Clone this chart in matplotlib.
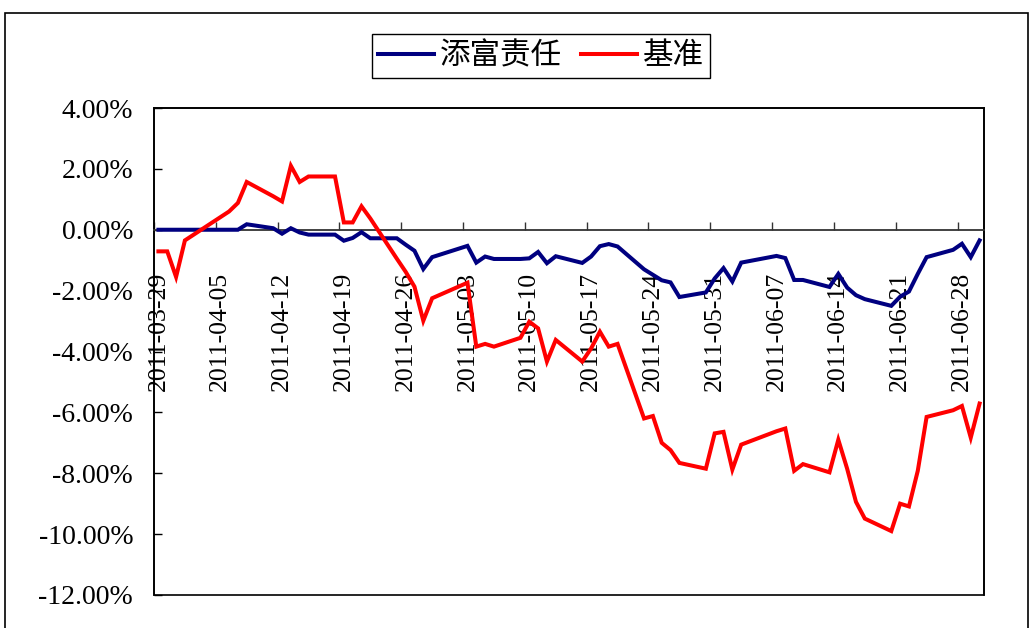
import matplotlib
matplotlib.use("Agg")
import matplotlib.pyplot as plt
import matplotlib.dates as mdates
from matplotlib.patches import Rectangle
from matplotlib.ticker import FixedLocator, FuncFormatter, NullFormatter
import pandas as pd

# ---------------- data ----------------
dates = ["2011-03-29", "2011-03-30", "2011-03-31", "2011-04-01", "2011-04-06", "2011-04-07",
         "2011-04-08", "2011-04-11", "2011-04-12", "2011-04-13", "2011-04-14", "2011-04-15",
         "2011-04-18", "2011-04-19", "2011-04-20", "2011-04-21", "2011-04-22", "2011-04-25",
         "2011-04-26", "2011-04-27", "2011-04-28", "2011-04-29", "2011-05-03", "2011-05-04",
         "2011-05-05", "2011-05-06", "2011-05-09", "2011-05-10", "2011-05-11", "2011-05-12",
         "2011-05-13", "2011-05-16", "2011-05-17", "2011-05-18", "2011-05-19", "2011-05-20",
         "2011-05-23", "2011-05-24", "2011-05-25", "2011-05-26", "2011-05-27", "2011-05-30",
         "2011-05-31", "2011-06-01", "2011-06-02", "2011-06-03", "2011-06-07", "2011-06-08",
         "2011-06-09", "2011-06-10", "2011-06-13", "2011-06-14", "2011-06-15", "2011-06-16",
         "2011-06-17", "2011-06-20", "2011-06-21", "2011-06-22", "2011-06-23", "2011-06-24",
         "2011-06-27", "2011-06-28", "2011-06-29", "2011-06-30"]

fund = [0.00, 0.00, 0.00, 0.00, 0.00, 0.00,
        0.18, 0.05, -0.13, 0.05, -0.09, -0.16,
        -0.16, -0.36, -0.27, -0.08, -0.28, -0.28,
        -0.49, -0.69, -1.29, -0.90, -0.53, -1.08,
        -0.88, -0.96, -0.96, -0.94, -0.73, -1.10,
        -0.87, -1.09, -0.88, -0.54, -0.47, -0.55,
        -1.30, -1.48, -1.66, -1.73, -2.21, -2.06,
        -1.60, -1.26, -1.70, -1.08, -0.86, -0.93,
        -1.65, -1.65, -1.88, -1.45, -1.90, -2.15,
        -2.28, -2.50, -2.20, -2.03, -1.45, -0.90,
        -0.66, -0.46, -0.90, -0.35]

bench = [-0.71, -0.71, -1.55, -0.35, 0.60, 0.88,
         1.57, 1.10, 0.93, 2.10, 1.57, 1.75,
         1.75, 0.24, 0.24, 0.77, 0.37, -0.95,
         -1.38, -1.87, -2.99, -2.25, -1.74, -3.84,
         -3.75, -3.84, -3.55, -3.02, -3.24, -4.33,
         -3.62, -4.33, -3.90, -3.35, -3.84, -3.75,
         -6.20, -6.12, -7.00, -7.24, -7.66, -7.85,
         -6.69, -6.64, -7.88, -7.06, -6.62, -6.53,
         -7.92, -7.70, -7.97, -6.90, -7.85, -8.94,
         -9.49, -9.90, -9.00, -9.09, -7.92, -6.15,
         -5.93, -5.79, -6.83, -5.71]

series_names = ["添富责任", "基准"]
tick_dates = ["2011-03-29", "2011-04-05", "2011-04-12", "2011-04-19", "2011-04-26",
              "2011-05-03", "2011-05-10", "2011-05-17", "2011-05-24", "2011-05-31",
              "2011-06-07", "2011-06-14", "2011-06-21", "2011-06-28"]
y_ticks = [4, 2, 0, -2, -4, -6, -8, -10, -12]
x_range = ["2011-03-29", "2011-07-01"]

# ---------------- figure ----------------
W, H = 1032, 628
fig = plt.figure(figsize=(W / 100, H / 100), dpi=100)
fig.patch.set_facecolor("white")

# outer chart-area border
fig.patches.append(Rectangle((5 / W, -0.05), 1023 / W, 1.05 - 13 / H,
                             transform=fig.transFigure, fill=False,
                             edgecolor="black", linewidth=1.2))

L, R, T, B = 154, 984, 108, 595
ax = fig.add_axes([L / W, 1 - B / H, (R - L) / W, (B - T) / H])

day_num = mdates.date2num(pd.to_datetime(dates).to_pydatetime())
half = 0.5  # points sit in the middle of each day slot (Excel date axis)
xs = day_num + half

ax.plot(xs, fund, color="#000080", lw=2.9, solid_joinstyle="miter", zorder=4,
        label=series_names[0])
ax.plot(xs, bench, color="#FF0000", lw=2.9, solid_joinstyle="miter", zorder=4,
        label=series_names[1])

xr = mdates.date2num(pd.to_datetime(x_range).to_pydatetime())
ax.set_xlim(xr[0], xr[1])
ax.set_ylim(min(y_ticks), max(y_ticks))

# spines: category axis crossing at zero; plot-area box drawn separately
for s in ["top", "right", "left"]:
    ax.spines[s].set_linewidth(1.2)
    ax.spines[s].set_color("black")
ax.spines["bottom"].set_position(("data", 0))
ax.spines["bottom"].set_linewidth(1.3)
ax.spines["bottom"].set_color("#333333")
ax.add_patch(Rectangle((0, 0), 1, 1, transform=ax.transAxes, fill=False,
                       edgecolor="black", linewidth=1.2, clip_on=False, zorder=2))

tick_num = mdates.date2num(pd.to_datetime(tick_dates).to_pydatetime())
ax.xaxis.set_major_locator(FixedLocator(tick_num))
ax.xaxis.set_major_formatter(NullFormatter())
ax.xaxis.set_minor_locator(FixedLocator(tick_num + half))
ax.xaxis.set_minor_formatter(FuncFormatter(
    lambda v, p: mdates.num2date(v).strftime("%Y-%m-%d")))
ax.tick_params(axis="x", which="major", direction="in", length=6, width=1.0,
               color="#333333", top=False)
ax.tick_params(axis="x", which="minor", length=0, pad=30, labelrotation=90,
               labelsize=18.5)
for lab in ax.xaxis.get_minorticklabels():
    lab.set_fontfamily("Liberation Serif")

ax.yaxis.set_major_locator(FixedLocator(y_ticks))
ax.yaxis.set_major_formatter(FuncFormatter(lambda v, p: "%.2f%%" % v))
ax.tick_params(axis="y", direction="in", length=6, width=1.0, pad=15,
               labelsize=20, right=False)
for lab in ax.get_yticklabels():
    lab.set_fontfamily("Liberation Serif")

# legend
leg = fig.legend(loc="center", bbox_to_anchor=(541 / W, 1 - 56 / H), ncol=2,
                 prop={"family": ["Noto Sans CJK SC", "DejaVu Sans"], "size": 22},
                 frameon=True, fancybox=False, edgecolor="black", framealpha=1,
                 handlelength=1.85, handletextpad=0.2, columnspacing=0.6,
                 borderpad=0.2, borderaxespad=0)
leg.get_frame().set_linewidth(1.0)

fig.savefig("out.png", dpi=100)
